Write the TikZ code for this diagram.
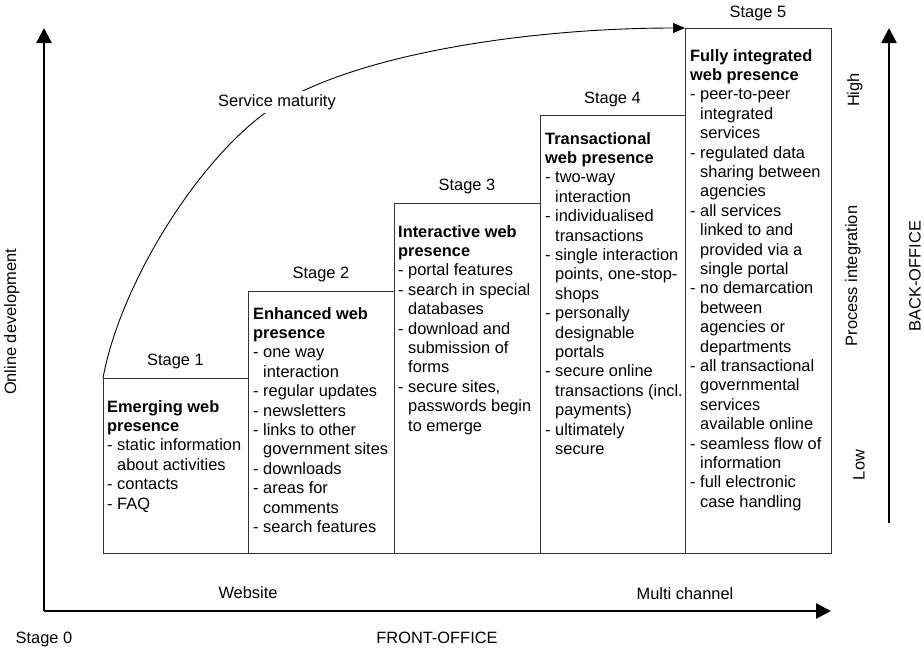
\documentclass[tikz,border=0pt]{standalone}
\usepackage{fontspec}
\setmainfont{Liberation Sans}
\usetikzlibrary{arrows.meta}
% indent for the continuation lines of a list entry
\newcommand\itemcont{\hphantom{-\ }}
\begin{document}
\begin{tikzpicture}[x=1pt,y=-1pt,
  every node/.style={font=\fontsize{16.4}{19.4}\selectfont, inner sep=0pt},
  stagebox/.style={draw=black!80, line width=1pt, anchor=north west, minimum width=#1},
  boxtext/.style={anchor=north west, align=left},
  stagelabel/.style={anchor=base},
  axislabel/.style={anchor=base},
  sidelabel/.style={rotate=90, anchor=center},
  axis/.style={line width=2.6pt, -{Triangle[length=15pt,width=15pt]}},
  maturity/.style={line width=0.9pt, -{Triangle[length=12pt,width=10pt]}}
]
\useasboundingbox (0,0) rectangle (924,649);

% axes
\coordinate (origin) at (44,611);
\coordinate (ytop) at (44,28);
\coordinate (xend) at (831,611);
\coordinate (rbottom) at (889,523);
\coordinate (rtop) at (889,28);
\draw[axis] (origin) -- (ytop);
\draw[axis] (origin) -- (xend);
\draw[axis] (rbottom) -- (rtop);

% stage boxes
\node[stagebox=145pt, minimum height=175pt] (b1) at (103,378) {};
\node[stagebox=146pt, minimum height=262pt] (b2) at (248,291) {};
\node[stagebox=146pt, minimum height=350pt] (b3) at (394,203) {};
\node[stagebox=145pt, minimum height=438pt] (b4) at (540,115) {};
\node[stagebox=146pt, minimum height=525pt] (b5) at (685,28) {};

% stage titles
\node[stagelabel] (s1) at (175.5,365) {Stage 1};
\node[stagelabel] (s2) at (321,278) {Stage 2};
\node[stagelabel] (s3) at (467,190) {Stage 3};
\node[stagelabel] (s4) at (612.5,103) {Stage 4};
\node[stagelabel] (s5) at (758,17) {Stage 5};

% box contents
\node[boxtext] (t1) at (107,400) {\textbf{Emerging web}\\\textbf{presence}\\
- static information\\\itemcont about activities\\
- contacts\\
- FAQ};
\node[boxtext] (t2) at (253,307) {\textbf{Enhanced web}\\\textbf{presence}\\
- one way\\\itemcont interaction\\
- regular updates\\
- newsletters\\
- links to other\\\itemcont government sites\\
- downloads\\
- areas for\\\itemcont comments\\
- search features};
\node[boxtext] (t3) at (398,225) {\textbf{Interactive web}\\\textbf{presence}\\
- portal features\\
- search in special\\\itemcont databases\\
- download and\\\itemcont submission of\\\itemcont forms\\
- secure sites,\\\itemcont passwords begin\\\itemcont to emerge};
\node[boxtext] (t4) at (545,132) {\textbf{Transactional}\\\textbf{web presence}\\
- two-way\\\itemcont interaction\\
- individualised\\\itemcont transactions\\
- single interaction\\\itemcont points, one-stop-\\\itemcont shops\\
- personally\\\itemcont designable\\\itemcont portals\\
- secure online\\\itemcont transactions (incl.\\\itemcont payments)\\
- ultimately\\\itemcont secure};
\node[boxtext] (t5) at (690,49) {\textbf{Fully integrated}\\\textbf{web presence}\\
- peer-to-peer\\\itemcont integrated\\\itemcont services\\
- regulated data\\\itemcont sharing between\\\itemcont agencies\\
- all services\\\itemcont linked to and\\\itemcont provided via a\\\itemcont single portal\\
- no demarcation\\\itemcont between\\\itemcont agencies or\\\itemcont departments\\
- all transactional\\\itemcont governmental\\\itemcont services\\\itemcont available online\\
- seamless flow of\\\itemcont information\\
- full electronic\\\itemcont case handling};

% service maturity curve
\coordinate (mid) at (280,103);
\draw[maturity] (b1.north west) .. controls (121,280) and (205,148) .. (mid)
  .. controls (366,52) and (535,28) .. (b5.north west);
\node[fill=white, inner xsep=2pt, inner ysep=3pt] (sm) at (277,102) {Service maturity};

% axis labels
\node[axislabel] (web) at (248,598) {Website};
\node[axislabel] (multi) at (685,599) {Multi channel};
\node[axislabel] (s0) at (44,643) {Stage 0};
\node[axislabel] (front) at (437,643) {FRONT-OFFICE};
\node[sidelabel] (online) at (12,322) {Online development};
\node[sidelabel] (high) at (855,90) {High};
\node[sidelabel] (proc) at (853,276) {Process integration};
\node[sidelabel] (low) at (859,465) {Low};
\node[sidelabel] (back) at (915,276) {BACK-OFFICE};
\end{tikzpicture}
\end{document}
